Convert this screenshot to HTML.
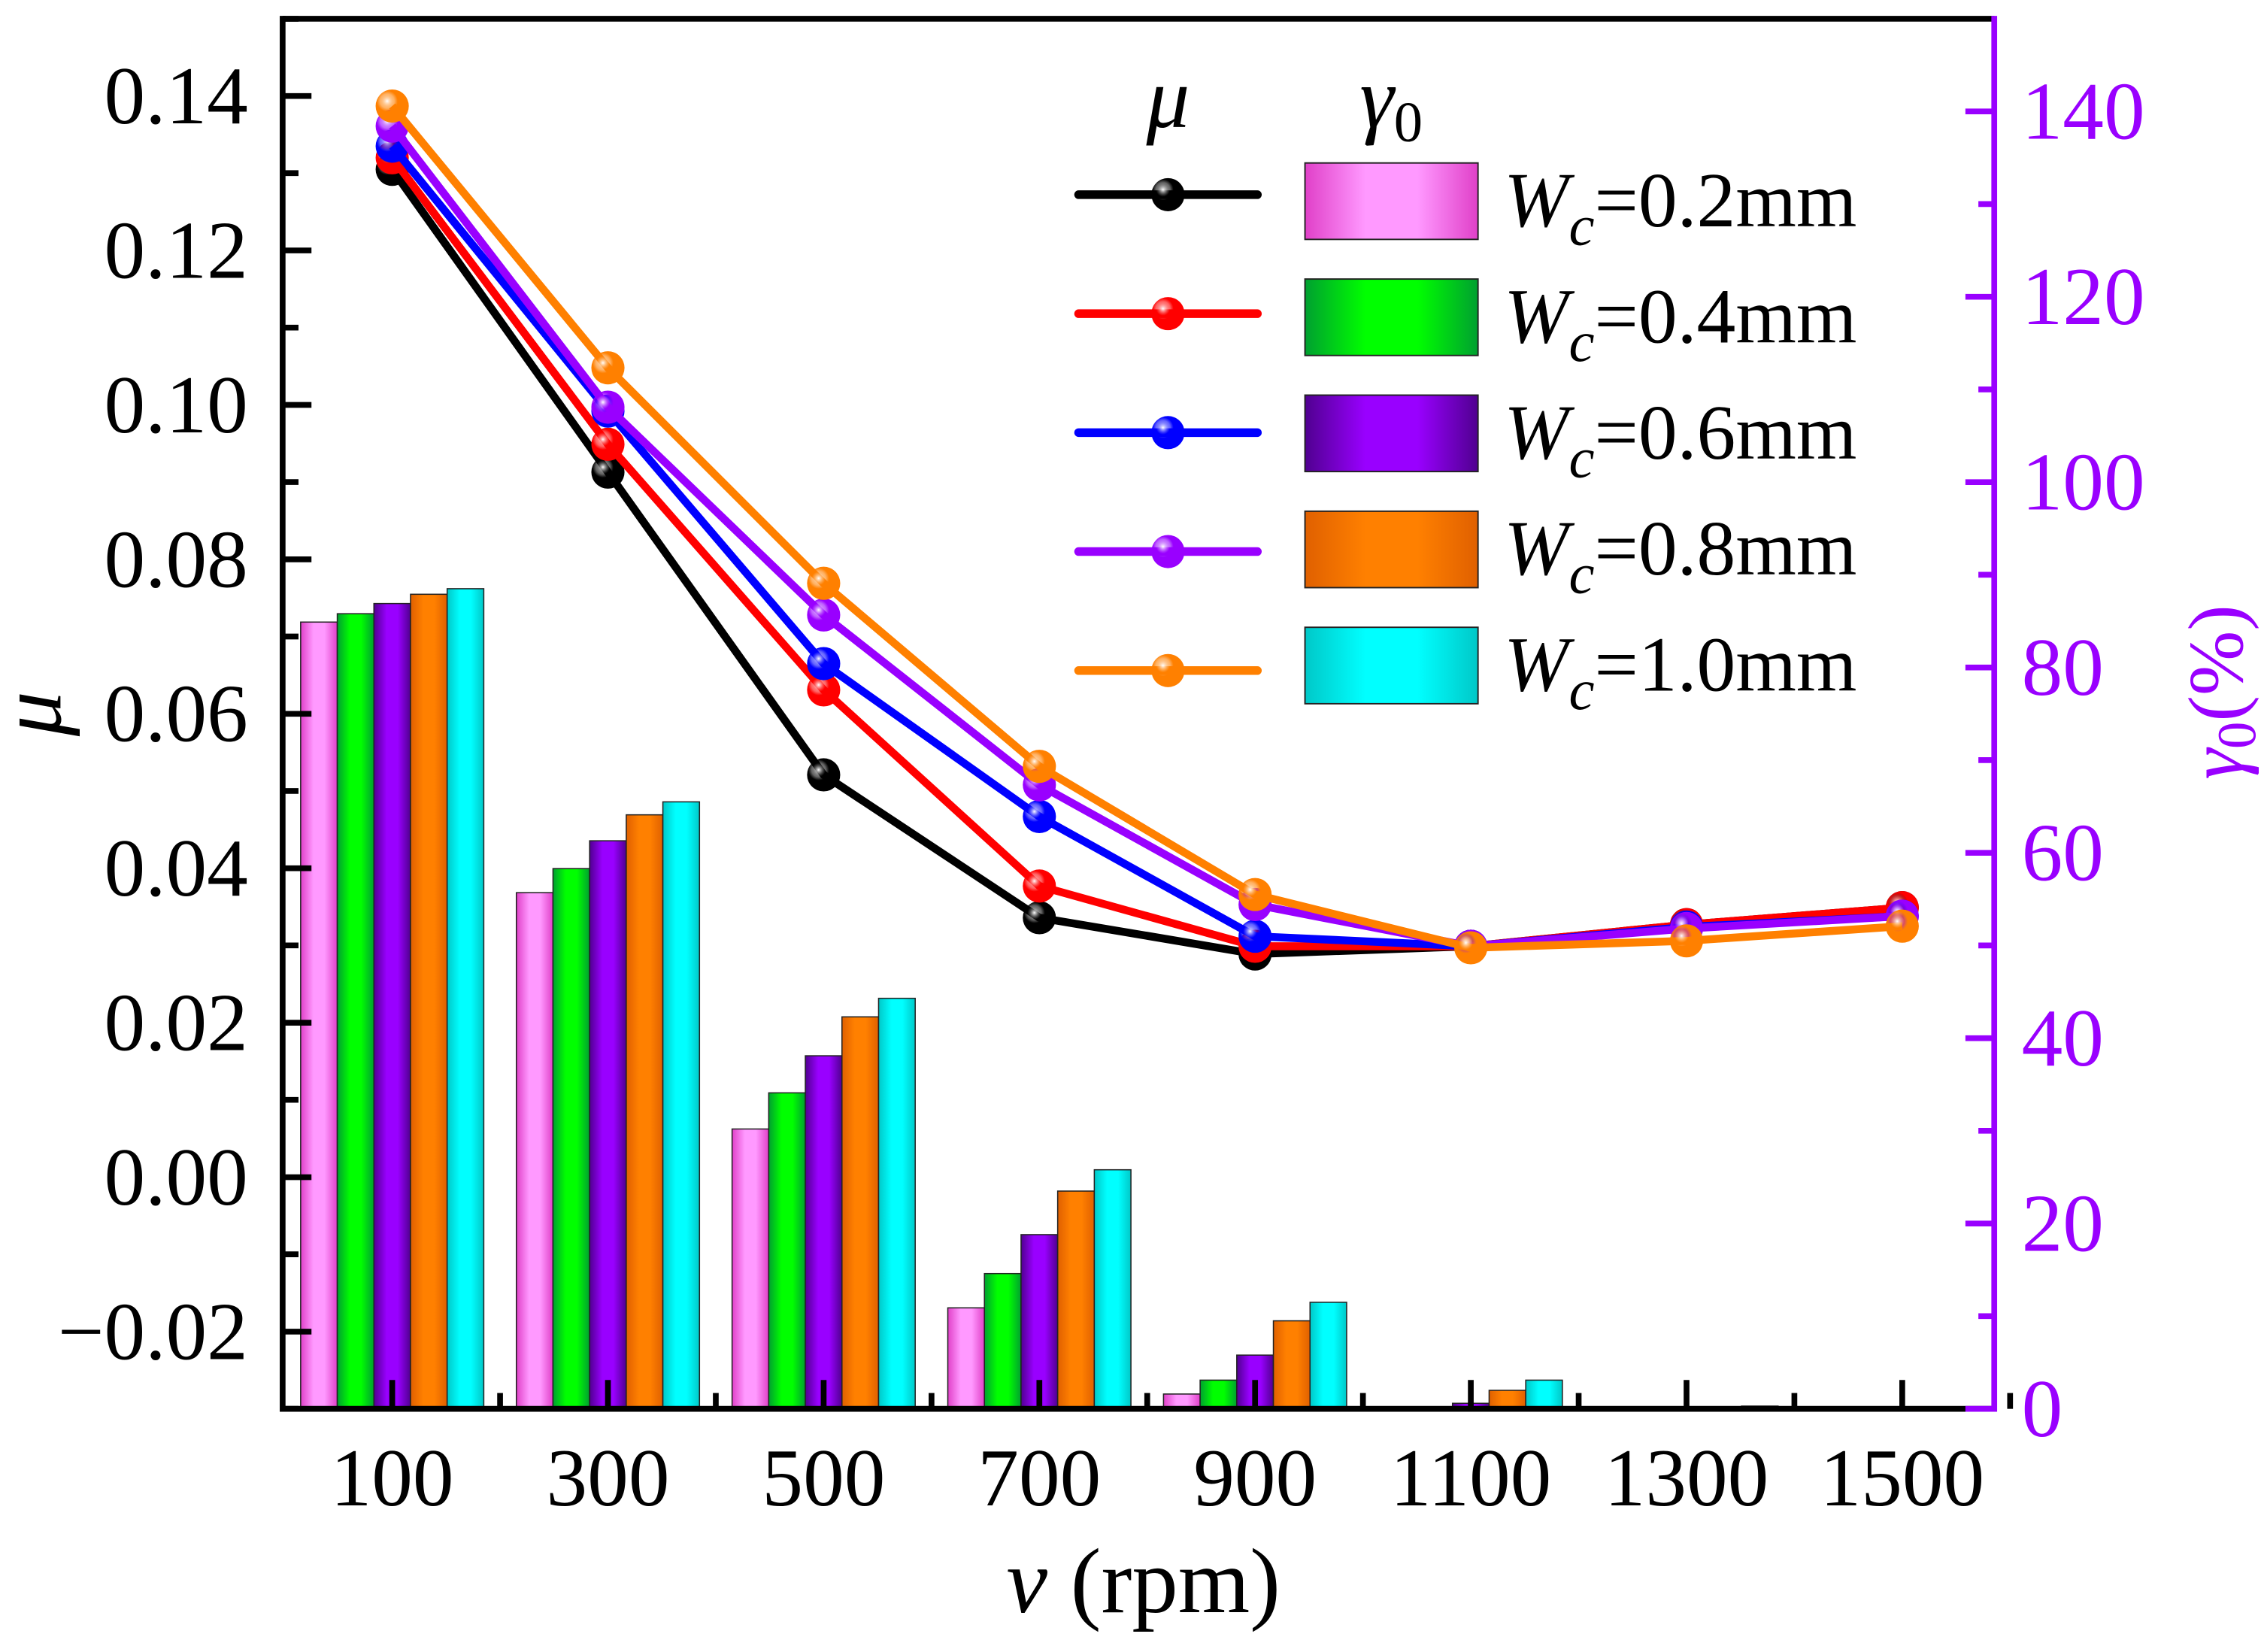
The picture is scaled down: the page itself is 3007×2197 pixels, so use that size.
<!DOCTYPE html>
<html><head><meta charset="utf-8"><style>
html,body{margin:0;padding:0;background:#fff}
svg{display:block;font-family:"Liberation Serif",serif}
</style></head><body>
<svg id="chart" width="3007" height="2197" viewBox="0 0 1568 1145.6" xmlns="http://www.w3.org/2000/svg">
<defs id="defs"></defs>
<g id="bars"></g>
<g id="lines"></g>
<g id="axes"></g>
<g id="legend"></g>
</svg>
<script>
const categories = [100,300,500,700,900,1100,1300,1500];
const widths = ["0.2","0.4","0.6","0.8","1.0"];
const gamma02 = [84.9,55.7,30.2,10.9,1.6,0,0,0];
const gamma04 = [85.8,58.3,34.1,14.6,3.1,0,0,0];
const gamma06 = [86.9,61.3,38.1,18.8,5.8,0.6,0,0];
const gamma08 = [87.9,64.1,42.3,23.5,9.5,2.0,0,0];
const gamma10 = [88.5,65.5,44.3,25.8,11.5,3.1,0.3,0];
const mu02 = [0.1305,0.0913,0.0521,0.0336,0.0289,0.0299,0.0327,0.0349];
const mu04 = [0.1320,0.0949,0.0631,0.0377,0.0299,0.0299,0.0327,0.0349];
const mu06 = [0.1335,0.0992,0.0665,0.0467,0.0312,0.0299,0.0324,0.0338];
const mu08 = [0.1361,0.0997,0.0728,0.0508,0.0353,0.0299,0.0322,0.0338];
const mu10 = [0.1387,0.1048,0.0769,0.0532,0.0366,0.0297,0.0306,0.0325];
const leftTicks = ["0.14","0.12","0.10","0.08","0.06","0.04","0.02","0.00","\u22120.02"];
const leftTickVals = [0.14,0.12,0.10,0.08,0.06,0.04,0.02,0,-0.02];
const rightTicks = [0,20,40,60,80,100,120,140];

const NS="http://www.w3.org/2000/svg";
const X0=196,X1=1383,Y0=13,Y1=977;
const yL=v=>Y1-(v+0.03)/0.18*(Y1-Y0);
const yR=v=>Y1-v/150*(Y1-Y0);
const xC=i=>272+149.6*i;
function mk(tag,attrs,parent){const e=document.createElementNS(NS,tag);for(const k in attrs)e.setAttribute(k,attrs[k]);parent.appendChild(e);return e;}
const defs=document.getElementById('defs');
const barCols=[["#e040c8","#ff99ff"],["#00a030","#00ff00"],["#500090","#9900ff"],["#e06000","#ff8000"],["#00c8c8","#00ffff"]];
barCols.forEach((c,i)=>{const g=mk('linearGradient',{id:'bg'+i,x1:0,x2:1,y1:0,y2:0},defs);
mk('stop',{offset:'0',"stop-color":c[0]},g);mk('stop',{offset:'0.35',"stop-color":c[1]},g);mk('stop',{offset:'0.65',"stop-color":c[1]},g);mk('stop',{offset:'1',"stop-color":c[0]},g);});
const lineCols=["#000000","#ff0000","#0000ff","#9900ff","#ff8000"];
lineCols.forEach((c,i)=>{const g=mk('radialGradient',{id:'mg'+i,cx:'0.35',cy:'0.35',r:'0.7'},defs);
mk('stop',{offset:'0',"stop-color":"#ffffff"},g);mk('stop',{offset:'0.3',"stop-color":c,"stop-opacity":"0.6"},g);mk('stop',{offset:'0.45',"stop-color":c},g);mk('stop',{offset:'1',"stop-color":c},g);});

const gammas=[gamma02,gamma04,gamma06,gamma08,gamma10];
const mus=[mu02,mu04,mu06,mu08,mu10];
const bars=document.getElementById('bars');
const bw=25.4;
gammas.forEach((s,si)=>{s.forEach((v,i)=>{if(v<=0)return;const x=xC(i)-2.5*bw+si*bw;const y=yR(v);
const r=mk('rect',{x:x,y:y,width:bw,height:Y1-y,fill:'url(#bg'+si+')',stroke:'#222','stroke-width':0.8},bars);

});});

const lines=document.getElementById('lines');
mus.forEach((s,si)=>{const pts=s.map((v,i)=>xC(i)+','+yL(v)).join(' ');
const pl=mk('polyline',{points:pts,fill:'none',stroke:lineCols[si],'stroke-width':5.5,'stroke-linejoin':'round'},lines);


s.forEach((v,i)=>{const c=mk('circle',{cx:xC(i),cy:yL(v),r:11.5,fill:'url(#mg'+si+')'},lines);

});});

const axes=document.getElementById('axes');
mk('line',{x1:X0,y1:Y0,x2:X1,y2:Y0,stroke:'#000','stroke-width':4},axes);
mk('line',{x1:X0,y1:Y1,x2:X1,y2:Y1,stroke:'#000','stroke-width':4},axes);
mk('line',{x1:X0,y1:Y0-2,x2:X0,y2:Y1+2,stroke:'#000','stroke-width':4},axes);
mk('line',{x1:X1,y1:Y0-2,x2:X1,y2:Y1+2,stroke:'#9900ff','stroke-width':4},axes);
leftTickVals.forEach((v,i)=>{const y=yL(v);mk('line',{x1:X0,y1:y,x2:X0+20,y2:y,stroke:'#000','stroke-width':4},axes);
mk('line',{x1:X0,y1:y+53.5,x2:X0+11,y2:y+53.5,stroke:'#000','stroke-width':4},axes);
const t=mk('text',{x:172,y:y+19,'text-anchor':'end','font-size':57},axes);t.textContent=leftTicks[i];

});
mk('line',{x1:X0,y1:yL(0.14)-53.5,x2:X0+11,y2:yL(0.14)-53.5,stroke:'#000','stroke-width':4},axes);
rightTicks.forEach((v,i)=>{const y=yR(v);mk('line',{x1:X1,y1:y,x2:X1-20,y2:y,stroke:'#9900ff','stroke-width':4},axes);
if(v<140)mk('line',{x1:X1,y1:y-64.3,x2:X1-11,y2:y-64.3,stroke:'#9900ff','stroke-width':4},axes);
const t=mk('text',{x:1402,y:y+19,'font-size':57,fill:'#9900ff'},axes);t.textContent=v;

});
categories.forEach((c,i)=>{const x=xC(i);mk('line',{x1:x,y1:Y1,x2:x,y2:Y1-20,stroke:'#000','stroke-width':4},axes);
mk('line',{x1:x+74.8,y1:Y1,x2:x+74.8,y2:Y1-11,stroke:'#000','stroke-width':4},axes);
const t=mk('text',{x:x,y:1044,'text-anchor':'middle','font-size':57},axes);t.textContent=c;

});
let t=mk('text',{x:793,y:1118,'text-anchor':'middle','font-size':64},axes);
t.innerHTML='<tspan font-style="italic">v</tspan> (rpm)';


t=mk('text',{x:0,y:0,'text-anchor':'middle','font-size':62,'font-style':'italic',transform:'translate(42,495) rotate(-90)'},axes);
t.textContent='\u03bc';


t=mk('text',{x:0,y:0,'text-anchor':'middle','font-size':54,fill:'#9900ff',transform:'translate(1555,480) rotate(-90)'},axes);
t.innerHTML='<tspan font-style="italic">\u03b3</tspan><tspan font-size="38" dy="9">0</tspan><tspan dy="-9">(%)</tspan>';



const legend=document.getElementById('legend');
t=mk('text',{x:810,y:88,'text-anchor':'middle','font-size':60,'font-style':'italic'},legend);t.textContent='\u03bc';


t=mk('text',{x:943,y:88,'font-size':60},legend);t.innerHTML='<tspan font-style="italic">\u03b3</tspan><tspan font-size="40" dy="10">0</tspan>';


widths.forEach((w,i)=>{const yl=135+82.5*i;const yb=113+80.5*i;
const g=mk('g',{},legend);


mk('line',{x1:748,y1:yl,x2:872,y2:yl,stroke:lineCols[i],'stroke-width':6,'stroke-linecap':'round'},g);
mk('circle',{cx:810,cy:yl,r:11.5,fill:'url(#mg'+i+')'},g);
mk('rect',{x:905,y:yb,width:120,height:53,fill:'url(#bg'+i+')',stroke:'#222','stroke-width':1},g);
const tx=mk('text',{x:1043,y:yb+44,'font-size':54},g);
tx.innerHTML='<tspan font-style="italic">W</tspan><tspan font-style="italic" font-size="40" dy="13">c</tspan><tspan dy="-13">='+w+'mm</tspan>';});
</script>
</body></html>
